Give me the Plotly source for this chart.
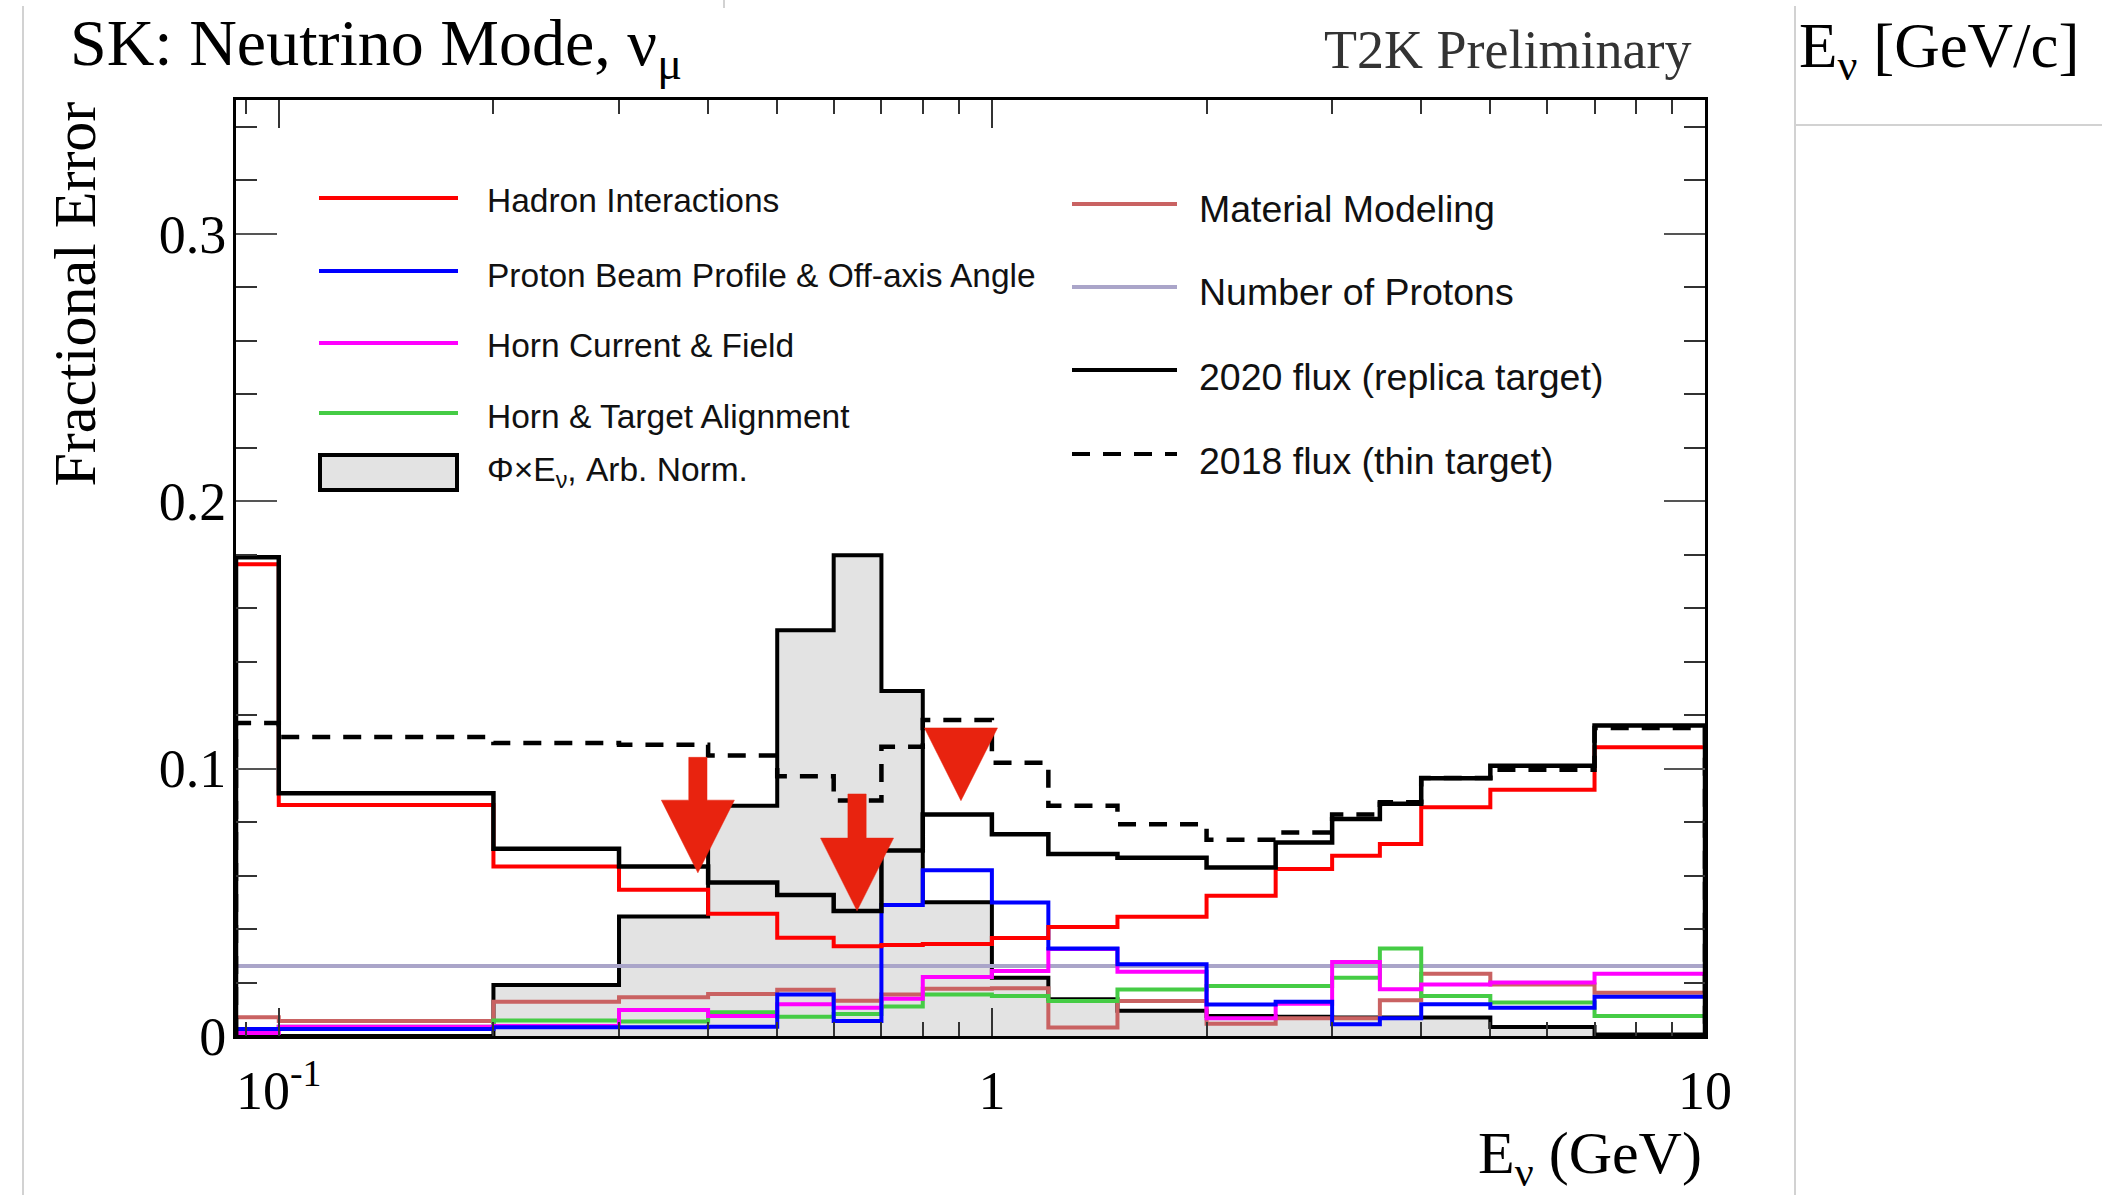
import math
import plotly.graph_objects as go

# ---------------------------------------------------------------------------
# SK neutrino-mode nu_mu flux: fractional error by source, per energy bin
# ---------------------------------------------------------------------------
# Bin edges in GeV (the first edge is the low end of the displayed range)
bin_edges = [0.0871, 0.1, 0.2, 0.3, 0.4, 0.5, 0.6, 0.7, 0.8, 1.0, 1.2,
             1.5, 2.0, 2.5, 3.0, 3.5, 4.0, 5.0, 7.0, 10.0]

hadron_interactions = [0.1764, 0.0864, 0.0634, 0.0547, 0.0457, 0.0367, 0.0336,
                       0.0340, 0.0344, 0.0366, 0.0408, 0.0446, 0.0524, 0.0624,
                       0.0674, 0.0718, 0.0855, 0.0921, 0.1080]
proton_beam = [0.0026, 0.0026, 0.0033, 0.0033, 0.0035, 0.0155, 0.0056, 0.0490,
               0.0620, 0.0499, 0.0327, 0.0268, 0.0118, 0.0128, 0.0044, 0.0066,
               0.0119, 0.0106, 0.0147]
horn_current = [0.0011, 0.0035, 0.0037, 0.0097, 0.0075, 0.0119, 0.0106, 0.0139,
                0.0221, 0.0243, 0.0325, 0.0240, 0.0066, 0.0121, 0.0277, 0.0175,
                0.0193, 0.0200, 0.0233]
horn_alignment = [0.0025, 0.0035, 0.0058, 0.0054, 0.0089, 0.0072, 0.0082, 0.0110,
                  0.0155, 0.0150, 0.0131, 0.0174, 0.0187, 0.0187, 0.0218, 0.0327,
                  0.0150, 0.0125, 0.0075]
material_modeling = [0.0070, 0.0056, 0.0128, 0.0145, 0.0157, 0.0173, 0.0132, 0.0155,
                     0.0177, 0.0179, 0.0032, 0.0131, 0.0046, 0.0066, 0.0066, 0.0134,
                     0.0233, 0.0193, 0.0162]
number_of_protons = [0.0262] * 19
flux_2020_total = [0.1790, 0.0908, 0.0700, 0.0634, 0.0574, 0.0527, 0.0467, 0.0694,
                   0.0828, 0.0754, 0.0681, 0.0667, 0.0630, 0.0724, 0.0811, 0.0868,
                   0.0964, 0.1011, 0.1161]
flux_2018_total = [0.1170, 0.1118, 0.1096, 0.1089, 0.1049, 0.0971, 0.0881, 0.1082,
                   0.1182, 0.1022, 0.0861, 0.0792, 0.0734, 0.0761, 0.0828, 0.0874,
                   0.0965, 0.0996, 0.1152]
# Flux x energy shape, arbitrary normalisation
flux_times_energy = [0.0, 0.0, 0.0191, 0.0447, 0.0861, 0.1517, 0.1798, 0.1290,
                     0.0500, 0.0218, 0.0137, 0.0094, 0.0075, 0.0072, 0.0069,
                     0.0069, 0.0069, 0.0034, 0.0006]

# Highlighted features (tip energy in GeV, tip fractional error, shaft length)
arrow_tip_energy = [0.387, 0.647, 0.905]
arrow_tip_error = [0.0610, 0.0468, 0.0880]
arrow_shaft_length = [0.0160, 0.0165, 0.0]

y_tick_values = [0, 0.1, 0.2, 0.3]
y_tick_labels = ["0", "0.1", "0.2", "0.3"]
x_tick_values = [0.1, 1, 10]
x_tick_labels = ["10<sup>-1</sup>", "1", "10"]
x_minor_ticks = [0.09, 0.2, 0.3, 0.4, 0.5, 0.6, 0.7, 0.8, 0.9,
                 2, 3, 4, 5, 6, 7, 8, 9]

# ---------------------------------------------------------------------------
W, H = 2102, 1195
L, R, T, B = 236, 1705, 100, 1036  # plot-area pixel box
SERIF = "Liberation Serif, Times New Roman, serif"
SANS = "Liberation Sans, Arial, Helvetica, sans-serif"


def fx(px):
    return (px - L) / (R - L)


def fy(py):
    return (B - py) / (B - T)


def step(edges, vals):
    xs = [edges[0]] + list(edges) + [edges[-1]]
    ys = [0.0] + list(vals) + [vals[-1], 0.0]
    return xs, ys


fig = go.Figure()

# Flux shape, filled histogram
xs, ys = step(bin_edges, flux_times_energy)
fig.add_trace(go.Scatter(x=xs, y=ys, mode="lines", line_shape="hv",
                         fill="tozeroy", fillcolor="#e3e3e3",
                         line=dict(color="black", width=4), hoverinfo="skip"))

series = [
    (number_of_protons, "#aaa5c9", 4, "solid"),
    (material_modeling, "#c96262", 4, "solid"),
    (horn_alignment, "#45cc45", 4, "solid"),
    (horn_current, "#ff00ff", 4, "solid"),
    (proton_beam, "#0000ff", 4, "solid"),
    (hadron_interactions, "#ff0000", 4, "solid"),
    (flux_2018_total, "black", 4.5, "18px,13px"),
    (flux_2020_total, "black", 4.5, "solid"),
]
for vals, color, width, dash in series:
    xs, ys = step(bin_edges, vals)
    fig.add_trace(go.Scatter(x=xs, y=ys, mode="lines", line_shape="hv",
                             line=dict(color=color, width=width, dash=dash),
                             hoverinfo="skip"))

# Red arrows marking features
HEAD_HALF = 0.0512   # decades
SHAFT_HALF = 0.0128  # decades
HEAD_H = 0.0272
for ex, ey, sl in zip(arrow_tip_energy, arrow_tip_error, arrow_shaft_length):
    lx = math.log10(ex)
    base = ey + HEAD_H
    if sl > 0:
        pts = [(lx, ey), (lx + HEAD_HALF, base), (lx + SHAFT_HALF, base),
               (lx + SHAFT_HALF, base + sl), (lx - SHAFT_HALF, base + sl),
               (lx - SHAFT_HALF, base), (lx - HEAD_HALF, base), (lx, ey)]
    else:
        pts = [(lx, ey), (lx + HEAD_HALF, base), (lx - HEAD_HALF, base), (lx, ey)]
    fig.add_trace(go.Scatter(x=[10 ** p[0] for p in pts], y=[p[1] for p in pts],
                             mode="lines", fill="toself", fillcolor="#e8230f",
                             line=dict(color="#e8230f", width=0.5),
                             hoverinfo="skip"))

# ---------------------------------------------------------------------------
shapes = []
annotations = []

# Legend, left column
left_entries = [
    ("Hadron Interactions", "#ff0000", 198, 201),
    ("Proton Beam Profile &amp; Off-axis Angle", "#0000ff", 271, 275),
    ("Horn Current &amp; Field", "#ff00ff", 343, 346),
    ("Horn &amp; Target Alignment", "#45cc45", 413, 416),
]
for text, color, ly, ty in left_entries:
    shapes.append(dict(type="line", xref="paper", yref="paper",
                       x0=fx(319), x1=fx(458), y0=fy(ly), y1=fy(ly),
                       line=dict(color=color, width=4)))
    annotations.append(dict(text=text, x=fx(485), y=fy(ty), xanchor="left",
                            yanchor="middle", font=dict(family=SANS, size=33.5,
                                                        color="#111")))
shapes.append(dict(type="rect", xref="paper", yref="paper",
                   x0=fx(320), x1=fx(457), y0=fy(490), y1=fy(455),
                   fillcolor="#e3e3e3", line=dict(color="black", width=4)))
annotations.append(dict(text="Φ×E<sub>ν</sub>, Arb. Norm.", x=fx(485), y=fy(472),
                        xanchor="left", yanchor="middle",
                        font=dict(family=SANS, size=33.5, color="#111")))

# Legend, right column
right_entries = [
    ("Material Modeling", "#c96262", "solid", 204, 209),
    ("Number of Protons", "#aaa5c9", "solid", 287, 292),
    ("2020 flux (replica target)", "black", "solid", 370, 377),
    ("2018 flux (thin target)", "black", "18px,13px", 454, 461),
]
for text, color, dash, ly, ty in right_entries:
    shapes.append(dict(type="line", xref="paper", yref="paper",
                       x0=fx(1072), x1=fx(1177), y0=fy(ly), y1=fy(ly),
                       line=dict(color=color, width=4, dash=dash)))
    annotations.append(dict(text=text, x=fx(1197), y=fy(ty), xanchor="left",
                            yanchor="middle", font=dict(family=SANS, size=37.5,
                                                        color="#111")))

# Titles and axis labels
annotations += [
    dict(text="SK: Neutrino Mode, ν<sub>μ</sub>", x=fx(68), y=fy(48),
         xanchor="left", yanchor="middle",
         font=dict(family=SERIF, size=66, color="black")),
    dict(text="T2K Preliminary", x=fx(1693), y=fy(50), xanchor="right",
         yanchor="middle", font=dict(family=SERIF, size=54, color="#333")),
    dict(text="E<sub>ν</sub> [GeV/c]", x=fx(1797), y=fy(51), xanchor="left",
         yanchor="middle", font=dict(family=SERIF, size=63, color="black")),
    dict(text="Fractional Error", x=fx(74), y=fy(100), xanchor="center",
         yanchor="top", textangle=-90,
         font=dict(family=SERIF, size=60, color="black")),
    dict(text="E<sub>ν</sub> (GeV)", x=fx(1704), y=fy(1157), xanchor="right",
         yanchor="middle", font=dict(family=SERIF, size=60, color="black")),
]
for a in annotations:
    a.update(xref="paper", yref="paper", showarrow=False)

# Page framing lines around the figure
frame_color = "#d2d2d2"
shapes += [
    dict(type="line", xref="paper", yref="paper", x0=fx(23), x1=fx(23),
         y0=fy(6), y1=fy(1195), line=dict(color=frame_color, width=2)),
    dict(type="line", xref="paper", yref="paper", x0=fx(724), x1=fx(724),
         y0=fy(0), y1=fy(8), line=dict(color=frame_color, width=2)),
    dict(type="line", xref="paper", yref="paper", x0=fx(1795), x1=fx(1795),
         y0=fy(6), y1=fy(1195), line=dict(color=frame_color, width=2)),
    dict(type="line", xref="paper", yref="paper", x0=fx(1795), x1=fx(2102),
         y0=fy(125), y1=fy(125), line=dict(color=frame_color, width=2)),
]

fig.update_layout(
    width=W, height=H,
    margin=dict(l=L, r=W - R, t=T, b=H - B),
    paper_bgcolor="white", plot_bgcolor="white",
    showlegend=False,
    shapes=shapes, annotations=annotations,
    xaxis=dict(type="log", range=[math.log10(bin_edges[0]), 1.0],
               showgrid=False, zeroline=False,
               showline=True, linecolor="black", linewidth=3, mirror="allticks",
               ticks="inside", ticklen=28, tickwidth=2, tickcolor="#333",
               tickvals=x_tick_values, ticktext=x_tick_labels,
               ticklabelstandoff=5,
               tickfont=dict(family=SERIF, size=54, color="black"),
               minor=dict(ticks="inside", ticklen=14, tickwidth=2,
                          tickcolor="#333", tickvals=x_minor_ticks,
                          showgrid=False)),
    yaxis=dict(range=[0, 0.35], showgrid=False, zeroline=False,
               showline=True, linecolor="black", linewidth=3, mirror="allticks",
               ticks="inside", ticklen=41, tickwidth=2, tickcolor="#555",
               tickvals=y_tick_values, ticktext=y_tick_labels,
               ticklabelstandoff=-4,
               tickfont=dict(family=SERIF, size=54, color="black"),
               minor=dict(ticks="inside", ticklen=21, tickwidth=2,
                          tickcolor="#333", dtick=0.02, showgrid=False)),
)

fig.write_html("out.html")
